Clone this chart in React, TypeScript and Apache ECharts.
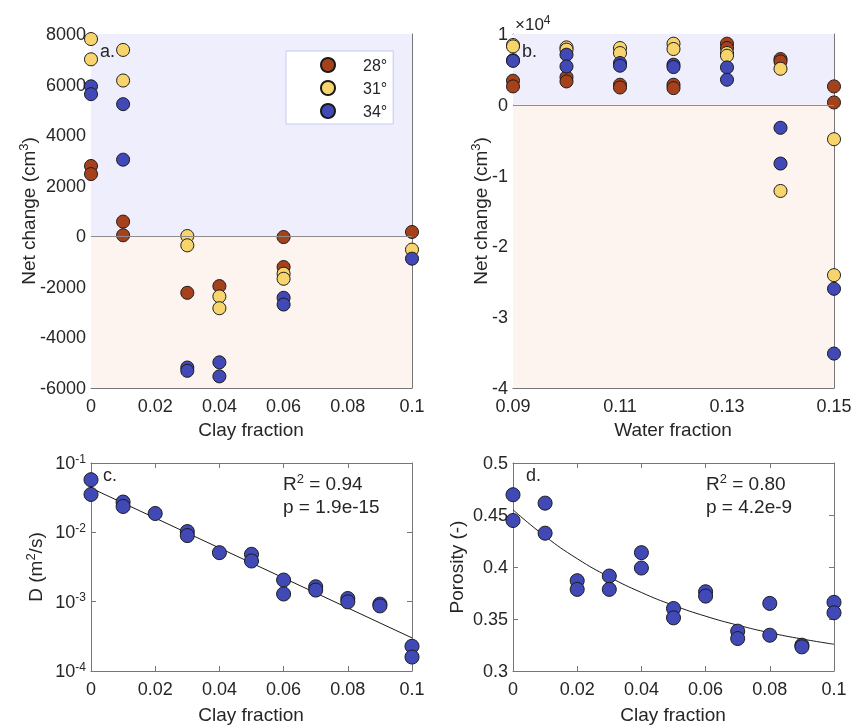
import React, { useEffect, useRef } from 'react';
import * as echarts from 'echarts';

const FONT = "'Liberation Sans', Arial, Helvetica, sans-serif";
const TEXT = '#262626';
const AXIS = '#767676';
const RED = '#a5421c';
const YELLOW = '#f8d46c';
const BLUE = '#4049b6';
const POS_BG = '#eeeefd';
const NEG_BG = '#fdf4ef';

const tempNames = ['28°', '31°', '34°'];

// Panel a: net change vs clay fraction
const a28x = [0, 0, 0.01, 0.01, 0.03, 0.04, 0.06, 0.06, 0.1];
const a28y = [2780, 2460, 580, 40, -2235, -1970, -30, -1217, 170];
const a31x = [0, 0, 0.01, 0.01, 0.03, 0.03, 0.04, 0.04, 0.06, 0.06, 0.1];
const a31y = [7800, 7000, 7370, 6160, 10, -357, -2380, -2845, -1480, -1680, -528];
const a34x = [0, 0, 0.01, 0.01, 0.03, 0.03, 0.04, 0.04, 0.06, 0.06, 0.1];
const a34y = [5930, 5620, 5225, 3030, -5190, -5320, -4985, -5540, -2433, -2698, -885];

// Panel b: net change vs water fraction
const b28x = [0.09, 0.09, 0.1, 0.1, 0.11, 0.11, 0.12, 0.12, 0.13, 0.13, 0.14, 0.14, 0.15, 0.15];
const b28y = [3400, 2600, 3900, 3300, 2830, 2450, 2830, 2360, 8630, 8020, 6460, 6130, 2600, 330];
const b31x = [0.09, 0.09, 0.1, 0.1, 0.11, 0.11, 0.12, 0.12, 0.13, 0.13, 0.14, 0.14, 0.15, 0.15];
const b31y = [8450, 8250, 8110, 7800, 8020, 7310, 8630, 7880, 7310, 6930, 5090, -12170, -4860, -24060];
const b34x = [0.09, 0.09, 0.1, 0.1, 0.11, 0.11, 0.12, 0.12, 0.13, 0.13, 0.14, 0.14, 0.15, 0.15];
const b34y = [6300, 6200, 7075, 5420, 5900, 5520, 5660, 5330, 5280, 3540, -3250, -8300, -25990, -35140];

// Panel c: D vs clay fraction (log)
const cX = [0, 0, 0.01, 0.01, 0.02, 0.03, 0.03, 0.04, 0.05, 0.05, 0.06, 0.06, 0.07, 0.07, 0.08, 0.08, 0.09, 0.09, 0.1, 0.1];
const cY = [0.0574, 0.0352, 0.0273, 0.0236, 0.0187, 0.01025, 0.00898, 0.00509, 0.00482, 0.00386, 0.00205, 0.00129, 0.00164, 0.00147, 0.00111, 0.000995, 0.00092, 0.00087, 0.000227, 0.000159];
const cFitX = [0, 0.1];
const cFitY = [0.0435, 0.0003];

// Panel d: porosity vs clay fraction
const dX = [0, 0, 0.01, 0.01, 0.02, 0.02, 0.03, 0.03, 0.04, 0.04, 0.05, 0.05, 0.06, 0.06, 0.07, 0.07, 0.08, 0.08, 0.09, 0.09, 0.1, 0.1];
const dY = [0.4695, 0.4447, 0.4614, 0.4325, 0.3868, 0.3785, 0.3913, 0.3785, 0.4138, 0.399, 0.3601, 0.3511, 0.3762, 0.372, 0.3383, 0.3312, 0.365, 0.3344, 0.3248, 0.3232, 0.366, 0.356];
const dFitX = [0, 0.01, 0.02, 0.03, 0.04, 0.05, 0.06, 0.07, 0.08, 0.09, 0.1];
const dFitY = [0.455, 0.4295, 0.408, 0.3904, 0.3755, 0.3631, 0.3527, 0.3441, 0.3368, 0.3308, 0.3257];

const zip = (xs: number[], ys: number[]) => xs.map((x, i) => [x, ys[i]]);

const labelStyle = { color: TEXT, fontSize: 18, fontFamily: FONT };
const supRich = { sup: { fontSize: 12, fontFamily: FONT, color: TEXT, padding: [0, 0, 9, 0] } };

function xPair(grid: number, min: number, max: number, interval: number, fmt: (v: number) => string) {
  const base = {
    type: 'value', gridIndex: grid, min, max, interval,
    splitLine: { show: false },
    axisLine: { show: true, onZero: false, lineStyle: { color: AXIS, width: 1 } },
    axisTick: { show: true, inside: true, length: 5, lineStyle: { color: AXIS } },
  };
  return [
    { ...base, position: 'bottom', axisLabel: { ...labelStyle, margin: 9, interval: 0, showMinLabel: true, showMaxLabel: true, formatter: fmt } },
    { ...base, position: 'top', axisLabel: { show: false } },
  ];
}

function yPair(grid: number, cfg: any, label: any) {
  const base = {
    gridIndex: grid,
    splitLine: { show: false },
    axisLine: { show: true, onZero: false, lineStyle: { color: AXIS, width: 1 } },
    axisTick: { show: true, inside: true, length: 5, lineStyle: { color: AXIS } },
    ...cfg,
  };
  return [
    { ...base, position: 'left', axisLabel: { ...labelStyle, margin: 5, showMinLabel: true, showMaxLabel: true, ...label } },
    { ...base, position: 'right', axisLabel: { show: false } },
  ];
}

const fmt2 = (v: number) => String(parseFloat(v.toFixed(2)));
const fmtInt = (v: number) => String(Math.round(v));

function scatter(name: string | undefined, grid: number, xs: number[], ys: number[], color: string, size: number, z = 3) {
  return {
    type: 'scatter', name, xAxisIndex: grid * 2, yAxisIndex: grid * 2,
    data: zip(xs, ys), symbol: 'circle', symbolSize: size, clip: false, z,
    itemStyle: { color, borderColor: '#1a1a1a', borderWidth: 1, opacity: 1 },
  };
}

function bgSeries(grid: number, lo: number, hi: number) {
  return {
    type: 'scatter', xAxisIndex: grid * 2, yAxisIndex: grid * 2, data: [], z: 1, silent: true,
    markArea: {
      silent: true,
      data: [
        [{ yAxis: 0, itemStyle: { color: POS_BG } }, { yAxis: hi }],
        [{ yAxis: lo, itemStyle: { color: NEG_BG } }, { yAxis: 0 }],
      ],
    },
    markLine: {
      silent: true, symbol: 'none', label: { show: false },
      lineStyle: { color: '#8c8c8c', width: 1, type: 'solid' },
      data: [{ yAxis: 0 }],
    },
  };
}

function txt(x: number, y: number, text: string, size: number, extra: any = {}) {
  return {
    type: 'text', x, y, z: 100,
    style: {
      text, fill: TEXT, fontSize: size, fontFamily: FONT,
      textAlign: 'left', textVerticalAlign: 'middle',
      rich: { sup: { fontSize: Math.round(size * 0.68), fontFamily: FONT, fill: TEXT, padding: [0, 0, Math.round(size * 0.5), 0] } },
      ...extra,
    },
  };
}

export default function App() {
  const ref = useRef<HTMLDivElement>(null);
  useEffect(() => {
    const chart = echarts.init(ref.current!, null, { renderer: 'svg' });
    const option: any = {
      animation: false,
      grid: [
        { left: 91, top: 34, width: 321, height: 354 },
        { left: 513, top: 34, width: 321, height: 354 },
        { left: 91, top: 463, width: 321, height: 208 },
        { left: 513, top: 463, width: 321, height: 208 },
      ],
      xAxis: [
        ...xPair(0, 0, 0.1, 0.02, fmt2),
        ...xPair(1, 0.09, 0.15, 0.02, fmt2),
        ...xPair(2, 0, 0.1, 0.02, fmt2),
        ...xPair(3, 0, 0.1, 0.02, fmt2),
      ],
      yAxis: [
        ...yPair(0, { type: 'value', min: -6000, max: 8000, interval: 2000 }, { formatter: fmtInt }),
        ...yPair(1, { type: 'value', min: -40000, max: 10000, interval: 10000 }, { formatter: (v: number) => String(Math.round(v / 10000)) }),
        ...yPair(2, { type: 'log', logBase: 10, min: 0.0001, max: 0.1, splitNumber: 3 }, {
          formatter: (v: number) => `10{sup|${Math.round(Math.log10(v))}}`,
          rich: supRich,
        }),
        ...yPair(3, { type: 'value', min: 0.3, max: 0.5, interval: 0.05 }, { formatter: fmt2 }),
      ],
      legend: {
        data: tempNames, left: 286, top: 51, orient: 'vertical',
        backgroundColor: '#ffffff', borderColor: '#c6c9f4', borderWidth: 1,
        padding: [5, 6, 4, 34], itemWidth: 14, itemHeight: 14, itemGap: 5,
        icon: 'circle', selectedMode: false,
        textStyle: { fontSize: 16, fontFamily: FONT, color: TEXT, lineHeight: 18, padding: [0, 0, 0, 23] },
      },
      series: [
        bgSeries(0, -6000, 8000),
        scatter(tempNames[0], 0, a28x, a28y, RED, 13),
        scatter(tempNames[1], 0, a31x, a31y, YELLOW, 13),
        scatter(tempNames[2], 0, a34x, a34y, BLUE, 13),
        bgSeries(1, -40000, 10000),
        scatter(tempNames[0], 1, b28x, b28y, RED, 13),
        scatter(tempNames[1], 1, b31x, b31y, YELLOW, 13),
        scatter(tempNames[2], 1, b34x, b34y, BLUE, 13),
        {
          type: 'line', xAxisIndex: 4, yAxisIndex: 4, data: zip(cFitX, cFitY), symbol: 'none', z: 2,
          lineStyle: { color: '#1a1a1a', width: 1 },
        },
        scatter(undefined, 2, cX, cY, BLUE, 14),
        {
          type: 'line', xAxisIndex: 6, yAxisIndex: 6, data: zip(dFitX, dFitY), symbol: 'none', z: 2, smooth: true,
          lineStyle: { color: '#1a1a1a', width: 1 },
        },
        scatter(undefined, 3, dX, dY, BLUE, 14),
      ],
      graphic: [
        txt(28, 211, 'Net change (cm{sup|3})', 19, { textAlign: 'center' }),
        txt(480, 211, 'Net change (cm{sup|3})', 19, { textAlign: 'center' }),
        txt(35, 567, 'D (m{sup|2}/s)', 19, { textAlign: 'center' }),
        txt(456, 567, 'Porosity (-)', 19, { textAlign: 'center' }),
        txt(251, 429, 'Clay fraction', 19, { textAlign: 'center' }),
        txt(673, 429, 'Water fraction', 19, { textAlign: 'center' }),
        txt(251, 714, 'Clay fraction', 19, { textAlign: 'center' }),
        txt(673, 714, 'Clay fraction', 19, { textAlign: 'center' }),
        txt(515, 24, '×10{sup|4}', 17),
        txt(100, 51, 'a.', 18),
        txt(522, 51, 'b.', 18),
        txt(103, 475, 'c.', 18),
        txt(526, 475, 'd.', 18),
        txt(283, 483, 'R{sup|2} = 0.94', 19),
        txt(283, 506, 'p = 1.9e-15', 19),
        txt(706, 483, 'R{sup|2} = 0.80', 19),
        txt(706, 506, 'p = 4.2e-9', 19),
      ].map((g: any, i: number) => (i < 4 ? { ...g, rotation: Math.PI / 2 } : g)),
    };
    chart.setOption(option);
    return () => chart.dispose();
  }, []);
  return <div ref={ref} style={{ position: 'fixed', left: 0, top: 0, width: 857, height: 726 }} />;
}
